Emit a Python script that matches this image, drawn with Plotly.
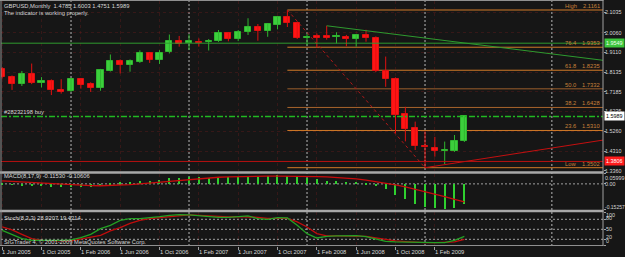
import plotly.graph_objects as go
import pandas as pd

# ---------------- data ----------------
months = pd.date_range("2005-06-01", periods=48, freq="MS")
bar_index = list(range(48))

opens = [1.8280, 1.7900, 1.7560, 1.8050, 1.7600, 1.7710, 1.7300, 1.7220, 1.7790, 1.7560,
         1.7360, 1.8215, 1.8700, 1.8475, 1.8620, 1.9060, 1.8730, 1.9105, 1.9670, 1.9560,
         1.9630, 1.9610, 1.9655, 2.0030, 1.9750, 2.0080, 2.0320, 2.0160, 2.0430, 2.0810,
         2.0545, 1.9800, 1.9900, 1.9900, 1.9830, 1.9860, 1.9750, 1.9950, 1.9820, 1.8180,
         1.7810, 1.6100, 1.5410, 1.4570, 1.4470, 1.4290, 1.4310, 1.4785]
highs = [1.8380, 1.7980, 1.8200, 1.8560, 1.7900, 1.7790, 1.7800, 1.7840, 1.7830, 1.7650,
         1.8300, 1.9000, 1.8760, 1.8760, 1.9200, 1.9100, 1.9210, 1.9970, 1.9900, 1.9980,
         1.9780, 1.9750, 2.0190, 2.0070, 2.0190, 2.0760, 2.0480, 2.0500, 2.0840, 2.1161,
         2.0600, 2.0000, 2.0020, 2.0395, 2.0080, 1.9950, 1.9990, 2.0200, 1.9880, 1.8900,
         1.7890, 1.6460, 1.5740, 1.5270, 1.5000, 1.4770, 1.5090, 1.6003]
lows = [1.7830, 1.7280, 1.7470, 1.7560, 1.7400, 1.7030, 1.7100, 1.7180, 1.7340, 1.7180,
        1.7240, 1.8175, 1.8080, 1.8165, 1.8590, 1.8590, 1.8540, 1.9050, 1.9380, 1.9220,
        1.9380, 1.9195, 1.9610, 1.9640, 1.9650, 1.9950, 1.9670, 1.9860, 2.0220, 2.0335,
        1.9750, 1.9450, 1.9330, 1.9720, 1.9540, 1.9400, 1.9380, 1.9620, 1.8150, 1.7430,
        1.5180, 1.4780, 1.4360, 1.3502, 1.4040, 1.3680, 1.4270, 1.4751]
closes = [1.7900, 1.7570, 1.8050, 1.7620, 1.7700, 1.7280, 1.7180, 1.7790, 1.7520, 1.7350,
          1.8245, 1.8700, 1.8475, 1.8685, 1.9060, 1.8720, 1.9060, 1.9640, 1.9510, 1.9640,
          1.9570, 1.9670, 2.0030, 1.9740, 2.0080, 2.0320, 2.0160, 2.0480, 2.0810, 2.0515,
          1.9790, 1.9860, 1.9820, 1.9820, 1.9880, 1.9750, 1.9950, 1.9820, 1.8200, 1.7810,
          1.6080, 1.5380, 1.4560, 1.4510, 1.4310, 1.4350, 1.4810, 1.5989]

macd_hist = [0.002, -0.004, -0.006, -0.008, -0.010, -0.015, -0.018, -0.014, -0.014, -0.015,
             -0.006, 0.006, 0.010, 0.014, 0.018, 0.020, 0.026, 0.034, 0.038, 0.040,
             0.040, 0.038, 0.040, 0.040, 0.042, 0.048, 0.044, 0.046, 0.052, 0.050,
             0.042, 0.034, 0.028, 0.020, 0.016, 0.012, 0.012, 0.008, -0.012, -0.030,
             -0.063, -0.087, -0.116, -0.134, -0.142, -0.146, -0.138, -0.1153]
macd_signal = [0.018, 0.015, 0.011, 0.007, 0.003, -0.001, -0.004, -0.006, -0.008, -0.010,
               -0.011, -0.010, -0.008, -0.004, 0.000, 0.005, 0.011, 0.017, 0.023, 0.028,
               0.032, 0.036, 0.039, 0.041, 0.043, 0.044, 0.045, 0.046, 0.046, 0.046,
               0.046, 0.045, 0.043, 0.041, 0.038, 0.034, 0.029, 0.022, 0.014, 0.006,
               -0.006, -0.018, -0.032, -0.045, -0.058, -0.075, -0.091, -0.10606]

stoch_main = [47, 35, 22, 17, 16, 17, 17, 18, 25, 35,
              52, 62, 77, 82, 82, 84, 88, 92, 94, 93,
              90, 88, 86, 86, 88, 90, 82, 80, 85, 84,
              62, 37, 24, 29, 30, 30, 31, 28, 20, 14,
              12, 11, 11, 10, 10, 10, 17, 28.9207]
stoch_signal = [57, 48, 35, 22, 17, 15, 15, 15, 20, 25,
                32, 45, 55, 68, 77, 82, 85, 89, 92, 93,
                92, 90, 88, 87, 88, 88, 86, 83, 83, 83,
                72, 57, 37, 30, 30, 30, 30, 29, 24, 19,
                15, 13, 11, 10, 10, 11, 12, 19.4214]

price_ticks = [2.1035, 2.0060, 1.9110, 1.8135, 1.7185, 1.6235, 1.5260, 1.4310, 1.3360]
time_label_bars = [0, 4, 8, 12, 16, 20, 24, 28, 32, 36, 40, 44]
separator_bars = [7, 19, 31, 43, 55.9]

fib_start_bar, fib_end_bar = 29, 43
fib_names = ["High", "76.4", "61.8", "50.0", "38.2", "23.6", "Low"]
fib_prices = [2.1161, 1.9353, 1.8235, 1.7332, 1.6428, 1.5310, 1.3502]
fib_colors = ["#d07a28", "#d07a28", "#d07a28", "#9c5e2c", "#a8642c", "#d07a28", "#d07a28"]

green_hline = 1.9549
red_hline = 1.3806
order_price = 1.5989
order_label = "#28232198 buy"
green_trend_bars, green_trend_prices = [33, 61.2], [2.0395, 1.8712]
red_trend_bars, red_trend_prices = [43, 61.2], [1.3502, 1.4850]

macd_axis_labels = ["0.05999", "0.00", "-0.15257"]
stoch_levels = [80, 50, 20]

# ---------------- geometry helpers ----------------
W, H = 625, 257
ML, MR, MT, MB = 1, 22, 1, 11
PW, PH = W - ML - MR, H - MT - MB


def pxx(px):
    return (px - ML) / PW


def pxy(py):
    return (H - MB - py) / PH


x_range = [-0.122, 61.10]
BG = "#161616"
TXT = "#d6d6d6"
FONT = "Liberation Sans, Arial, sans-serif"
FS = 5.8
AFS = 5.4

fig = go.Figure()

# candles
up = [i for i in bar_index if closes[i] >= opens[i]]
dn = [i for i in bar_index if closes[i] < opens[i]]


def wick_xy(idx):
    xs, ys = [], []
    for i in idx:
        xs += [i, i, None]
        ys += [lows[i], highs[i], None]
    return xs, ys


for idx, col, wcol in [(up, "#3ccf3c", "#2fb52f"), (dn, "#ff1414", "#e01010")]:
    wx, wy = wick_xy(idx)
    fig.add_trace(go.Scatter(x=wx, y=wy, mode="lines", line=dict(color=wcol, width=1),
                             yaxis="y", hoverinfo="skip"))
    fig.add_trace(go.Bar(x=idx,
                         y=[max(abs(closes[i] - opens[i]), 0.002) for i in idx],
                         base=[min(opens[i], closes[i]) for i in idx],
                         width=0.62, marker=dict(color=col, line=dict(color=wcol, width=1)),
                         yaxis="y", hoverinfo="skip"))

# trend lines
fig.add_trace(go.Scatter(x=green_trend_bars, y=green_trend_prices, mode="lines",
                         line=dict(color="#2f9a2f", width=1), yaxis="y", hoverinfo="skip"))
fig.add_trace(go.Scatter(x=red_trend_bars, y=red_trend_prices, mode="lines",
                         line=dict(color="#c41010", width=1), yaxis="y", hoverinfo="skip"))
fig.add_trace(go.Scatter(x=[fib_start_bar, fib_end_bar], y=[fib_prices[0], fib_prices[-1]],
                         mode="lines", line=dict(color="#b01818", width=1, dash="dot"),
                         yaxis="y", hoverinfo="skip"))

# MACD
fig.add_trace(go.Bar(x=bar_index, y=macd_hist, width=0.14, marker=dict(color="#2fd02f", line=dict(width=0)),
                     yaxis="y2", hoverinfo="skip"))
fig.add_trace(go.Scatter(x=bar_index, y=macd_signal, mode="lines",
                         line=dict(color="#c80c0c", width=1.3), yaxis="y2", hoverinfo="skip"))

# Stochastic
fig.add_trace(go.Scatter(x=bar_index, y=stoch_signal, mode="lines",
                         line=dict(color="#c00c0c", width=1.3), yaxis="y3", hoverinfo="skip"))
fig.add_trace(go.Scatter(x=bar_index, y=stoch_main, mode="lines",
                         line=dict(color="#23a023", width=1.3), yaxis="y3", hoverinfo="skip"))

shapes = []
for b in separator_bars:
    shapes.append(dict(type="line", xref="x", yref="paper", x0=b, x1=b, y0=0, y1=1,
                       line=dict(color="#b8b8b8", width=1, dash="2px,2px"), layer="below"))
for p, c in zip(fib_prices, fib_colors):
    shapes.append(dict(type="line", xref="x", yref="y", x0=fib_start_bar, x1=x_range[1],
                       y0=p, y1=p, line=dict(color=c, width=1), layer="below"))
shapes.append(dict(type="line", xref="paper", yref="y", x0=0, x1=1, y0=green_hline, y1=green_hline,
                   line=dict(color="#2f9a2f", width=1)))
shapes.append(dict(type="line", xref="paper", yref="y", x0=0, x1=1, y0=red_hline, y1=red_hline,
                   line=dict(color="#b81010", width=1)))
shapes.append(dict(type="line", xref="paper", yref="y", x0=0, x1=1, y0=order_price, y1=order_price,
                   line=dict(color="#22b822", width=1.5, dash="6px,2px,2px,2px")))
shapes.append(dict(type="line", xref="paper", yref="y2", x0=0, x1=1, y0=0, y1=0,
                   line=dict(color="#a0a0a0", width=1, dash="2px,2px"), layer="below"))
for lv in stoch_levels:
    shapes.append(dict(type="line", xref="paper", yref="y3", x0=0, x1=1, y0=lv, y1=lv,
                       line=dict(color="#a0a0a0", width=1, dash="2px,2px"), layer="below"))
FR = "#a8a8a8"
shapes += [
    dict(type="rect", xref="paper", yref="paper", x0=pxx(0), x1=pxx(603.5), y0=pxy(173.7), y1=pxy(171.3),
         fillcolor=FR, line=dict(width=0)),
    dict(type="rect", xref="paper", yref="paper", x0=pxx(0), x1=pxx(603.5), y0=pxy(212.3), y1=pxy(209.8),
         fillcolor=FR, line=dict(width=0)),
    dict(type="line", xref="paper", yref="paper", x0=pxx(0), x1=pxx(603.5), y0=pxy(245.5), y1=pxy(245.5),
         line=dict(color="#909090", width=1)),
    dict(type="line", xref="paper", yref="paper", x0=pxx(0), x1=pxx(603.5), y0=pxy(0.5), y1=pxy(0.5),
         line=dict(color="#909090", width=1)),
    dict(type="line", xref="paper", yref="paper", x0=pxx(1), x1=pxx(1), y0=pxy(0), y1=pxy(246),
         line=dict(color="#909090", width=1)),
    dict(type="line", xref="paper", yref="paper", x0=pxx(603), x1=pxx(603), y0=pxy(0), y1=pxy(246),
         line=dict(color="#a0a0a0", width=1)),
]

ann = []


def txt(x, y, s, color=TXT, xanchor="left", yanchor="middle", xref="paper", yref="paper", size=FS,
        **kw):
    d = dict(x=x, y=y, text=s, xref=xref, yref=yref, xanchor=xanchor, yanchor=yanchor,
             showarrow=False, font=dict(family=FONT, size=size, color=color), borderpad=0)
    d.update(kw)
    ann.append(d)


title = "GBPUSD,Monthly\u00a0\u00a0{:.4f} {:.4f} {:.4f} {:.4f}".format(opens[-1], highs[-1], lows[-1], closes[-1])
txt(pxx(3), pxy(6), title)
txt(pxx(3), pxy(12.8), "The indicator is working properly.")
txt(pxx(3), pxy(112.3), order_label)
txt(pxx(3), pxy(176.4), "MACD(8,17,9) {:.5f} {:.5f}".format(macd_hist[-1], macd_signal[-1]))
txt(pxx(3), pxy(217.8), "Stoch(8,3,3) {:.4f} {:.4f}".format(stoch_main[-1], stoch_signal[-1]))
txt(pxx(3), pxy(242.4), "SIGTrader 4, \u00a9 2001-2009 MetaQuotes Software Corp.")

for b in time_label_bars:
    txt(b, pxy(251.8), "1 " + months[b].strftime("%b %Y"), xref="x", xshift=-1)

for n, p, c in zip(fib_names, fib_prices, fib_colors):
    txt(pxx(564), p, n, color="#c8803a", yref="y", yanchor="bottom")
    txt(pxx(601), p, "{:.4f}".format(p), color="#c8803a", xanchor="right", yref="y", yanchor="bottom")

for p, bg, fg in [(green_hline, "#3cc63c", "#f0fff0"), (order_price, "#ffffff", "#000000"),
                  (red_hline, "#ff1c1c", "#ffffff")]:
    ann.append(dict(x=pxx(603.5), y=p, xref="paper", yref="y", text="{:.4f}".format(p), showarrow=False,
                    xanchor="left", yanchor="middle", bgcolor=bg, borderpad=1,
                    font=dict(family=FONT, size=AFS, color=fg)))

for s, py, sz in zip(macd_axis_labels, [177.7, 184.2, 206.6], [AFS, AFS, 5.0]):
    txt(pxx(603.5), pxy(py), s, size=sz)
for s, py in zip(["100", "80", "50", "20", "0"], [214.6, 217.6, 228.7, 237.3, 241.0]):
    txt(pxx(605), pxy(py), s, size=AFS)

fig.update_layout(
    width=W, height=H, margin=dict(l=ML, r=MR, t=MT, b=MB, pad=0),
    paper_bgcolor=BG, plot_bgcolor=BG, showlegend=False, barmode="overlay",
    bargap=0, hovermode=False,
    xaxis=dict(domain=[0, 1], range=x_range, anchor="y3", tickvals=time_label_bars,
               showticklabels=False, ticks="outside", ticklen=3, tickcolor="#a0a0a0",
               showgrid=True, gridcolor="rgba(130,30,30,0.3)", griddash="dot", gridwidth=1,
               zeroline=False, showline=False, fixedrange=True),
    yaxis=dict(domain=[pxy(171.3), 1], range=[1.3327, 2.1598], side="right", anchor="x",
               tickvals=price_ticks, ticktext=["{:.4f}".format(v) for v in price_ticks],
               tickfont=dict(family=FONT, size=AFS, color=TXT), ticks="outside", ticklen=2,
               ticklabelstandoff=-2,
               tickcolor="#a0a0a0", showgrid=True, gridcolor="rgba(130,30,30,0.3)",
               griddash="dot", zeroline=False, showline=False, automargin=False),
    yaxis2=dict(domain=[pxy(209.8), pxy(173.7)], range=[-0.15257, 0.05999], side="right", anchor="x",
                tickvals=[0.05999, 0, -0.15257], showticklabels=False, ticks="outside", ticklen=2,
                tickcolor="#a0a0a0", showgrid=False, zeroline=False, automargin=False),
    yaxis3=dict(domain=[0, pxy(212.3)], range=[-0.1, 101], side="right", anchor="x",
                tickvals=[100, 80, 50, 20, 0], showticklabels=False, ticks="outside", ticklen=2,
                tickcolor="#a0a0a0", showgrid=False, zeroline=False, automargin=False),
    shapes=shapes, annotations=ann,
)

fig.write_html("out.html", config={"displayModeBar": False})
